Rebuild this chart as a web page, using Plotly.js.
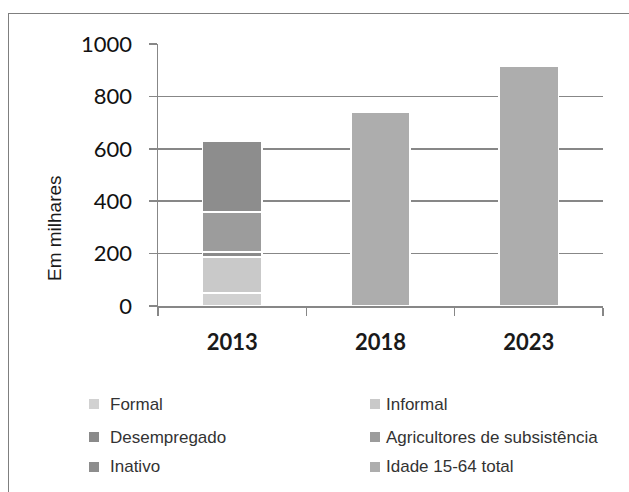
<!DOCTYPE html>
<html>
<head>
<meta charset="utf-8">
<script src="https://cdn.plot.ly/plotly-3.0.1.min.js"></script>
<style>
html,body{margin:0;padding:0;background:#fff;}
#wrap{position:relative;width:629px;height:492px;overflow:hidden;}
#frame{position:absolute;left:8px;top:13px;width:700px;height:600px;border-left:1.5px solid #7f7f7f;border-top:1.5px solid #7f7f7f;}
#chart{position:absolute;left:0;top:0;width:629px;height:492px;}
</style>
</head>
<body>
<div id="wrap"><div id="frame"></div><div id="chart"></div></div>
<script>
const categories = ["2013", "2018", "2023"];
const seriesNames = ["Formal", "Informal", "Desempregado", "Agricultores de subsistência", "Inativo", "Idade 15-64 total"];
const formal = [50, null, null];
const informal = [137, null, null];
const desempregado = [20, null, null];
const agricultores = [152, null, null];
const inativo = [271, null, null];
const idadeTotal = [null, 740, 915];
const yTicks = [0, 200, 400, 600, 800, 1000];
const yTitle = "Em milhares";

const seriesValues = [formal, informal, desempregado, agricultores, inativo, idadeTotal];
const colors = ["#d1d1d1", "#c9c9c9", "#8a8a8a", "#9c9c9c", "#8d8d8d", "#adadad"];

const W = 629, H = 492;
const M = {l: 158, r: 26, t: 44, b: 186};
const pw = W - M.l - M.r, ph = H - M.t - M.b;
const px2x = px => (px - M.l) / pw;
const py2y = py => (H - M.b - py) / ph;

const traces = seriesNames.map((n, i) => ({
  type: "bar",
  name: n,
  x: categories,
  y: seriesValues[i],
  marker: {color: colors[i], line: {color: "#ffffff", width: 1.5}},
  width: 0.4,
  showlegend: false
}));

// manual legend: 2 columns x 3 rows
const colX = [94, 375];
const rowY = [404, 437, 467];
const shapes = [];
const annotations = [];
seriesNames.forEach((n, i) => {
  const cx = colX[i % 2], cy = rowY[Math.floor(i / 2)];
  const s = 5;
  shapes.push({type: "rect", xref: "paper", yref: "paper",
    x0: px2x(cx - s), x1: px2x(cx + s), y0: py2y(cy + s), y1: py2y(cy - s),
    fillcolor: colors[i], line: {width: 0}});
  annotations.push({xref: "paper", yref: "paper", x: px2x(cx + (i % 2 ? 9 : 14)), y: py2y(cy),
    xanchor: "left", yanchor: "middle", showarrow: false, text: n,
    font: {family: "Liberation Sans, Arial, sans-serif", size: 17, color: "#333333"}});
});
// y axis title (placed as in reference, below the plot centre)
annotations.push({xref: "paper", yref: "paper", x: px2x(54), y: py2y(228),
  xanchor: "center", yanchor: "middle", showarrow: false, textangle: -90, text: yTitle,
  font: {family: "Liberation Sans, Arial, sans-serif", size: 19, color: "#1a1a1a"}});

const layout = {
  width: W, height: H,
  margin: {l: M.l, r: M.r, t: M.t, b: M.b, autoexpand: false},
  paper_bgcolor: "rgba(0,0,0,0)",
  plot_bgcolor: "rgba(0,0,0,0)",
  barmode: "stack",
  showlegend: false,
  shapes: shapes,
  annotations: annotations,
  xaxis: {
    type: "category",
    showline: true, linecolor: "#878787", linewidth: 1.5,
    ticks: "outside", tickson: "boundaries", ticklen: 8, tickcolor: "#878787", tickwidth: 1.5,
    tickfont: {family: "Lato, Open Sans, sans-serif", size: 22, color: "#1a1a1a", weight: "bold"},
    ticklabelstandoff: 16,
    showgrid: false, zeroline: false
  },
  yaxis: {
    range: [0, 1000],
    tickvals: yTicks,
    ticktext: yTicks.map(String),
    showline: true, linecolor: "#878787", linewidth: 1.5,
    ticks: "outside", ticklen: 8, tickcolor: "#878787", tickwidth: 1.5,
    ticklabelstandoff: 12,
    showgrid: true, gridcolor: "#878787", gridwidth: 1.5,
    zeroline: false,
    tickfont: {family: "Lato, Open Sans, sans-serif", size: 22, color: "#111111"}
  }
};

Plotly.newPlot("chart", traces, layout, {displayModeBar: false, staticPlot: true});
</script>
</body>
</html>
